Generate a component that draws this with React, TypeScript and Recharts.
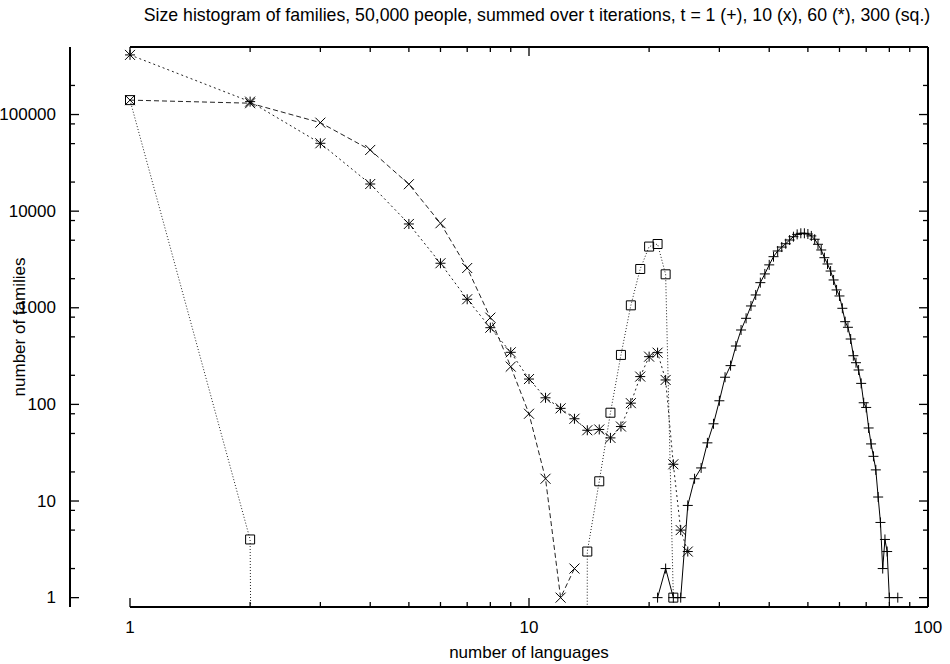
import React from 'react';
import { ComposedChart, Line, XAxis, YAxis } from 'recharts';

// ---------- data ----------
// t = 1 (+)
const plusX = [21, 22, 23, 24, 25, 26, 27, 28, 29, 30, 31, 32, 33, 34, 35, 36, 37, 38, 39, 40,
  41, 42, 43, 44, 45, 46, 47, 48, 49, 50, 51, 52, 53, 54, 55, 56, 57, 58, 59, 60,
  61, 62, 63, 64, 65, 66, 67, 68, 69, 70, 71, 72, 73, 74, 75, 76, 77, 78, 79, 80, 84];
const plusY = [1, 2, 1, 1, 9, 17, 22, 40, 63, 109, 191, 252, 402, 589, 778, 1044, 1357, 1820, 2240, 2780,
  3380, 3870, 4250, 4600, 5030, 5440, 5750, 5900, 5900, 5800, 5540, 5120, 4540, 3965, 3300, 2840, 2400, 1940, 1530, 1325,
  988, 718, 628, 475, 319, 270, 227, 165, 104, 93, 57, 39, 29, 21, 11, 6, 2, 4, 3, 1, 1];

// t = 10 (x)
const crossX = [1, 2, 3, 4, 5, 6, 7, 8, 9, 10, 11, 12, 13];
const crossY = [141000, 131000, 82400, 43000, 19000, 7500, 2580, 790, 246, 80, 17, 1, 2];

// t = 60 (*)
const starX = [1, 2, 3, 4, 5, 6, 7, 8, 9, 10, 11, 12, 13, 14, 15, 16, 17, 18, 19, 20, 21, 22, 23, 24, 25];
const starY = [414000, 136000, 50400, 19100, 7370, 2890, 1225, 622, 346, 183, 117, 91, 71, 54, 55, 45, 59,
  103, 194, 312, 343, 179, 24, 5, 3];

// t = 300 (sq.)
const sqX = [1, 2, 3, 4, 5, 6, 7, 8, 9, 10, 11, 12, 13, 14, 15, 16, 17, 18, 19, 20, 21, 22, 23];
const sqY = [141000, 4, 0, 0, 0, 0, 0, 0, 0, 0, 0, 0, 0, 3, 16, 82, 325, 1060, 2520, 4300, 4570, 2220, 1];

const xTicks = [1, 2, 3, 4, 5, 6, 7, 8, 9, 10, 20, 30, 40, 50, 60, 70, 80, 90, 100];
const yTicks = [1, 2, 5, 8, 10, 20, 50, 80, 100, 200, 500, 800, 1000, 2000, 5000, 8000,
  10000, 20000, 50000, 80000, 100000, 200000];
const xDomain = [1, 100];
const yDomain = [0.8, 500000];

const TITLE = 'Size histogram of families, 50,000 people, summed over t iterations, t = 1 (+), 10 (x), 60 (*), 300 (sq.)';
const XLABEL = 'number of languages';
const YLABEL = 'number of families';

// ---------- helpers ----------
// an empty bin is log(0) = -infinity: the line drops straight to the bottom border
const LOG_ZERO = 1e-100;
const linePts = (xs: number[], ys: number[]) => xs.map((x, i) => ({ x, y: ys[i] > 0 ? ys[i] : LOG_ZERO }));
const markPts = (xs: number[], ys: number[]) =>
  xs.map((x, i) => ({ x, y: ys[i] })).filter((p) => p.y > 0);

const FONT = '"Liberation Sans", Arial, Helvetica, sans-serif';
const FS = 17;
const INK = '#000';
const TS = 0.001; // near-zero tick size: tick components draw their own inward ticks

const isMajor = (v: number) => Math.abs(Math.log10(v) - Math.round(Math.log10(v))) < 1e-6;
const MAJ = 9;
const MIN = 5;

const BottomTick = (p: any) => {
  const { x, y, payload } = p;
  const v = payload.value;
  const m = isMajor(v);
  return (
    <g>
      <line x1={x} x2={x} y1={y} y2={y - (m ? MAJ : MIN)} stroke={INK} strokeWidth={1.3} />
      {m && (
        <text x={x} y={y + 20} textAnchor="middle" dominantBaseline="central" fontSize={FS} fontFamily={FONT} fill={INK}>
          {v}
        </text>
      )}
    </g>
  );
};
const TopTick = (p: any) => {
  const { x, y, payload } = p;
  const m = isMajor(payload.value);
  return <line x1={x} x2={x} y1={y} y2={y + (m ? MAJ : MIN)} stroke={INK} strokeWidth={1.3} />;
};
const LeftTick = (p: any) => {
  const { x, y, payload } = p;
  const v = payload.value;
  const m = isMajor(v);
  return (
    <g>
      <line x1={x} x2={x + (m ? MAJ : MIN)} y1={y} y2={y} stroke={INK} strokeWidth={1.3} />
      {m && (
        <text x={x - 14} y={y} textAnchor="end" dominantBaseline="central" fontSize={FS} fontFamily={FONT} fill={INK}>
          {v}
        </text>
      )}
    </g>
  );
};
const RightTick = (p: any) => {
  const { x, y, payload } = p;
  const m = isMajor(payload.value);
  return <line x1={x} x2={x - (m ? MAJ : MIN)} y1={y} y2={y} stroke={INK} strokeWidth={1.3} />;
};

const S = 5;
const marker = (kind: string) => (p: any) => {
  const { cx, cy, index } = p;
  if (cx == null || cy == null || !isFinite(cx) || !isFinite(cy)) return <g key={`e${index}`} />;
  let d = '';
  if (kind === 'plus' || kind === 'star') d += `M${cx - S},${cy}H${cx + S}M${cx},${cy - S}V${cy + S}`;
  if (kind === 'cross' || kind === 'star') d += `M${cx - S},${cy - S}L${cx + S},${cy + S}M${cx - S},${cy + S}L${cx + S},${cy - S}`;
  if (kind === 'square') d = `M${cx - 4.5},${cy - 4.5}h9v9h-9z`;
  return <path key={`m${index}`} d={d} stroke={INK} strokeWidth={1} fill="none" />;
};

const series = [
  { name: 't1', xs: plusX, ys: plusY, dash: undefined, kind: 'plus', color: '#000' },
  { name: 't10', xs: crossX, ys: crossY, dash: '5 3', kind: 'cross', color: '#222' },
  { name: 't60', xs: starX, ys: starY, dash: '2 3', kind: 'star', color: '#222' },
  { name: 't300', xs: sqX, ys: sqY, dash: '1 2', kind: 'square', color: '#222' },
];

const W = 950;
const H = 664;

export default function App() {
  return (
    <div style={{ position: 'relative', width: W, height: H, background: '#fff' }}>
      <style>{'body{margin:0;background:#fff}'}</style>
      <ComposedChart width={W} height={H} margin={{ top: 46, right: 21, bottom: 56, left: 129 }}>
        <XAxis xAxisId="b" dataKey="x" type="number" scale="log" domain={xDomain} ticks={xTicks} interval={0}
          orientation="bottom" height={1} tickSize={TS} tickMargin={0} tickLine={false}
          axisLine={{ stroke: INK, strokeWidth: 2 }} tick={BottomTick} allowDataOverflow={false} />
        <XAxis xAxisId="t" dataKey="x" type="number" scale="log" domain={xDomain} ticks={xTicks} interval={0}
          orientation="top" height={1} tickSize={TS} tickMargin={0} tickLine={false}
          axisLine={{ stroke: INK, strokeWidth: 2 }} tick={TopTick} allowDataOverflow />
        <YAxis yAxisId="l" dataKey="y" type="number" scale="log" domain={yDomain} ticks={yTicks} interval={0}
          orientation="left" width={1} tickSize={TS} tickMargin={0} tickLine={false}
          axisLine={{ stroke: INK, strokeWidth: 2 }} tick={LeftTick} allowDataOverflow={false} />
        <YAxis yAxisId="r" dataKey="y" type="number" scale="log" domain={yDomain} ticks={yTicks} interval={0}
          orientation="right" width={1} tickSize={TS} tickMargin={0} tickLine={false}
          axisLine={{ stroke: INK, strokeWidth: 2 }} tick={RightTick} allowDataOverflow />
        <YAxis yAxisId="clip" dataKey="y" type="number" scale="log" domain={yDomain} hide allowDataOverflow />
        {series.map((s) => (
          <Line key={`line-${s.name}`} xAxisId="b" yAxisId="clip" data={linePts(s.xs, s.ys)} dataKey="y"
            type="linear" stroke={s.color} strokeWidth={1} strokeDasharray={s.dash} dot={false}
            activeDot={false} isAnimationActive={false} />
        ))}
        {series.map((s) => (
          <Line key={`mark-${s.name}`} xAxisId="b" yAxisId="l" data={markPts(s.xs, s.ys)} dataKey="y"
            type="linear" stroke="none" dot={marker(s.kind)} activeDot={false} isAnimationActive={false} />
        ))}
      </ComposedChart>
      <svg width={W} height={H} style={{ position: 'absolute', left: 0, top: 0, pointerEvents: 'none' }}>
        <text x={537} y={15} textAnchor="middle" dominantBaseline="central" fontSize={17.7} fontFamily={FONT} fill={INK}>
          {TITLE}
        </text>
        <text x={529} y={652} textAnchor="middle" dominantBaseline="central" fontSize={FS} fontFamily={FONT} fill={INK}>
          {XLABEL}
        </text>
        <text x={19} y={327} transform="rotate(-90 19 327)" textAnchor="middle" dominantBaseline="central"
          fontSize={FS} fontFamily={FONT} fill={INK}>
          {YLABEL}
        </text>
      </svg>
    </div>
  );
}
